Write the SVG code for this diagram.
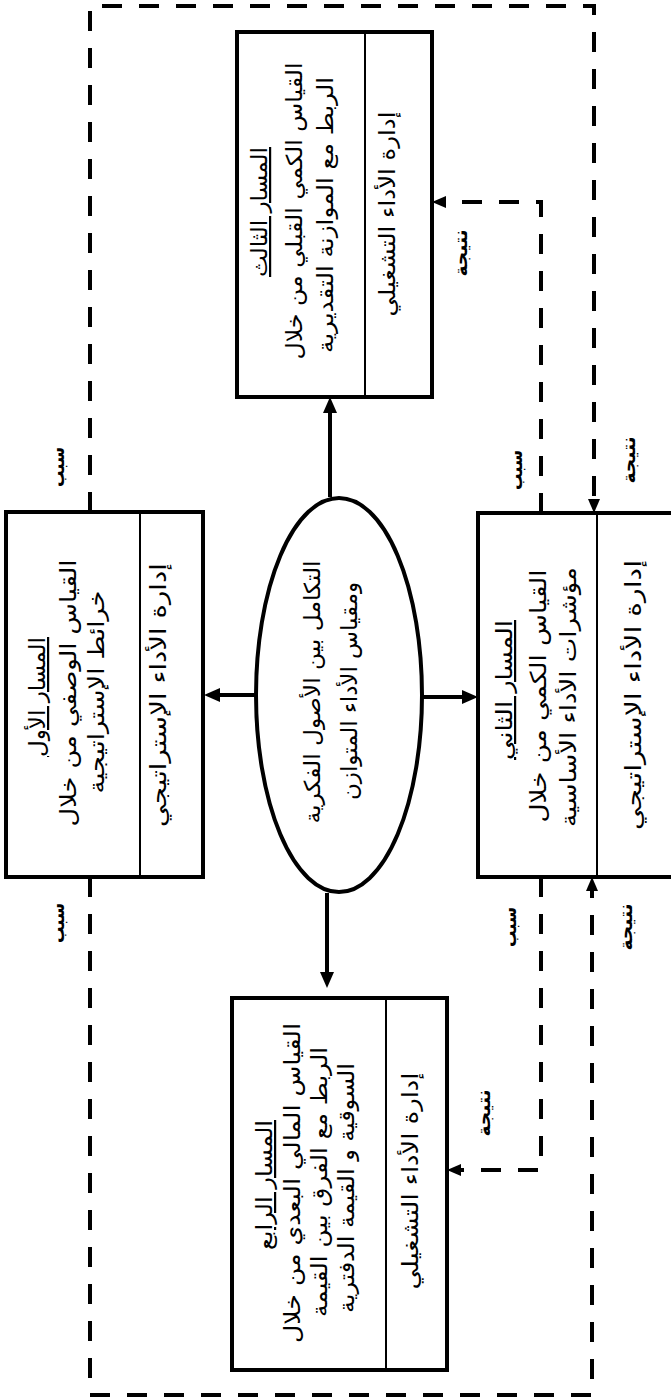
<svg xmlns="http://www.w3.org/2000/svg" width="671" height="1400" viewBox="0 0 671 1400">
<style>
.box{fill:#fff;stroke:#000;stroke-width:4}
.dv{stroke:#000;stroke-width:2}
.t{font-family:'DejaVu Sans',sans-serif;font-size:22px;text-anchor:middle;fill:#000}
.ttl{text-decoration:underline}
.lbl{font-family:'DejaVu Sans',sans-serif;font-size:18px;font-weight:bold;text-anchor:middle;fill:#000}
.solid{fill:none;stroke:#000;stroke-width:4;marker-end:url(#ah)}
.dash{fill:none;stroke:#000;stroke-width:4;stroke-dasharray:20 17;marker-end:url(#ahs)}
</style>
<defs>
<marker id="ah" markerUnits="userSpaceOnUse" markerWidth="16" markerHeight="14" refX="0" refY="7" orient="auto" viewBox="0 0 16 14"><path d="M0,0 L16,7 L0,14 z" fill="#000"/></marker>
<marker id="ahs" markerUnits="userSpaceOnUse" markerWidth="14" markerHeight="12" refX="0" refY="6" orient="auto" viewBox="0 0 14 12"><path d="M0,0 L14,6 L0,12 z" fill="#000"/></marker>
</defs>
<rect width="671" height="1400" fill="#fff"/>

<g id="connectors">
<path class="dash" d="M90 512 V6 H594 V499"/>
<path class="dash" d="M90 877 V1395 H592 V891"/>
<path class="dash" d="M541 513 V202 H446"/>
<path class="dash" d="M541 877 V1170 H461"/>
<path class="solid" d="M330 497 V413"/>
<path class="solid" d="M327 893 V972"/>
<path class="solid" d="M256 695 H220"/>
<path class="solid" d="M423 697 H462"/>
<text class="lbl" transform="translate(64,467) rotate(-90)" textLength="40" lengthAdjust="spacingAndGlyphs">سبب</text>
<text class="lbl" transform="translate(64,923) rotate(-90)" textLength="40" lengthAdjust="spacingAndGlyphs">سبب</text>
<text class="lbl" transform="translate(522,470) rotate(-90)" textLength="40" lengthAdjust="spacingAndGlyphs">سبب</text>
<text class="lbl" transform="translate(516,927) rotate(-90)" textLength="40" lengthAdjust="spacingAndGlyphs">سبب</text>
<text class="lbl" transform="translate(467,253) rotate(-90)" textLength="47" lengthAdjust="spacingAndGlyphs">نتيجة</text>
<text class="lbl" transform="translate(635,460) rotate(-90)" textLength="47" lengthAdjust="spacingAndGlyphs">نتيجة</text>
<text class="lbl" transform="translate(632,927) rotate(-90)" textLength="47" lengthAdjust="spacingAndGlyphs">نتيجة</text>
<text class="lbl" transform="translate(490,1113) rotate(-90)" textLength="47" lengthAdjust="spacingAndGlyphs">نتيجة</text>
</g>

<g id="center">
<ellipse cx="339" cy="695" rx="83" ry="197" fill="#fff" stroke="#000" stroke-width="4"/>
<text class="t" transform="translate(320,692) rotate(-90)" textLength="263" lengthAdjust="spacingAndGlyphs">التكامل بين الأصول الفكرية</text>
<text class="t" transform="translate(357,691) rotate(-90)" textLength="218" lengthAdjust="spacingAndGlyphs">ومقياس الأداء المتوازن</text>
</g>

<g id="path1">
<rect class="box" x="6" y="512" width="197" height="365"/>
<line class="dv" x1="140" y1="512" x2="140" y2="877"/>
<text class="t ttl" transform="translate(45,697) rotate(-90)" textLength="120" lengthAdjust="spacingAndGlyphs">المسار الأول</text>
<text class="t" transform="translate(76,693) rotate(-90)" textLength="267" lengthAdjust="spacingAndGlyphs">القياس الوصفي من خلال</text>
<text class="t" transform="translate(104,692) rotate(-90)" textLength="203" lengthAdjust="spacingAndGlyphs">خرائط الإستراتيجية</text>
<text class="t" transform="translate(166,695) rotate(-90)" textLength="264" lengthAdjust="spacingAndGlyphs">إدارة الأداء الإستراتيجي</text>
</g>

<g id="path2">
<rect class="box" x="478" y="513" width="197" height="364"/>
<line class="dv" x1="597" y1="513" x2="597" y2="877"/>
<text class="t ttl" transform="translate(512,690) rotate(-90)" textLength="140" lengthAdjust="spacingAndGlyphs">المسار الثاني</text>
<text class="t" transform="translate(546,696) rotate(-90)" textLength="253" lengthAdjust="spacingAndGlyphs">القياس الكمي من خلال</text>
<text class="t" transform="translate(576,697) rotate(-90)" textLength="260" lengthAdjust="spacingAndGlyphs">مؤشرات الأداء الأساسية</text>
<text class="t" transform="translate(641,695) rotate(-90)" textLength="270" lengthAdjust="spacingAndGlyphs">إدارة الأداء الإستراتيجي</text>
</g>

<g id="path3">
<rect class="box" x="237" y="32" width="195" height="365"/>
<line class="dv" x1="365" y1="32" x2="365" y2="397"/>
<text class="t ttl" transform="translate(267,212) rotate(-90)" textLength="130" lengthAdjust="spacingAndGlyphs">المسار الثالث</text>
<text class="t" transform="translate(302,211) rotate(-90)" textLength="297" lengthAdjust="spacingAndGlyphs">القياس الكمي القبلي من خلال</text>
<text class="t" transform="translate(333,215) rotate(-90)" textLength="276" lengthAdjust="spacingAndGlyphs">الربط مع الموازنة التقديرية</text>
<text class="t" transform="translate(395,214) rotate(-90)" textLength="205" lengthAdjust="spacingAndGlyphs">إدارة الأداء التشغيلي</text>
</g>

<g id="path4">
<rect class="box" x="232" y="998" width="215" height="372"/>
<line class="dv" x1="386" y1="998" x2="386" y2="1370"/>
<text class="t ttl" transform="translate(272,1185) rotate(-90)" textLength="130" lengthAdjust="spacingAndGlyphs">المسار الرابع</text>
<text class="t" transform="translate(300,1183) rotate(-90)" textLength="320" lengthAdjust="spacingAndGlyphs">القياس المالي البعدي من خلال</text>
<text class="t" transform="translate(327,1182) rotate(-90)" textLength="270" lengthAdjust="spacingAndGlyphs">الربط مع الفرق بين القيمة</text>
<text class="t" transform="translate(354,1188) rotate(-90)" textLength="250" lengthAdjust="spacingAndGlyphs">السوقية و القيمة الدفترية</text>
<text class="t" transform="translate(418,1181) rotate(-90)" textLength="217" lengthAdjust="spacingAndGlyphs">إدارة الأداء التشغيلي</text>
</g>
</svg>
